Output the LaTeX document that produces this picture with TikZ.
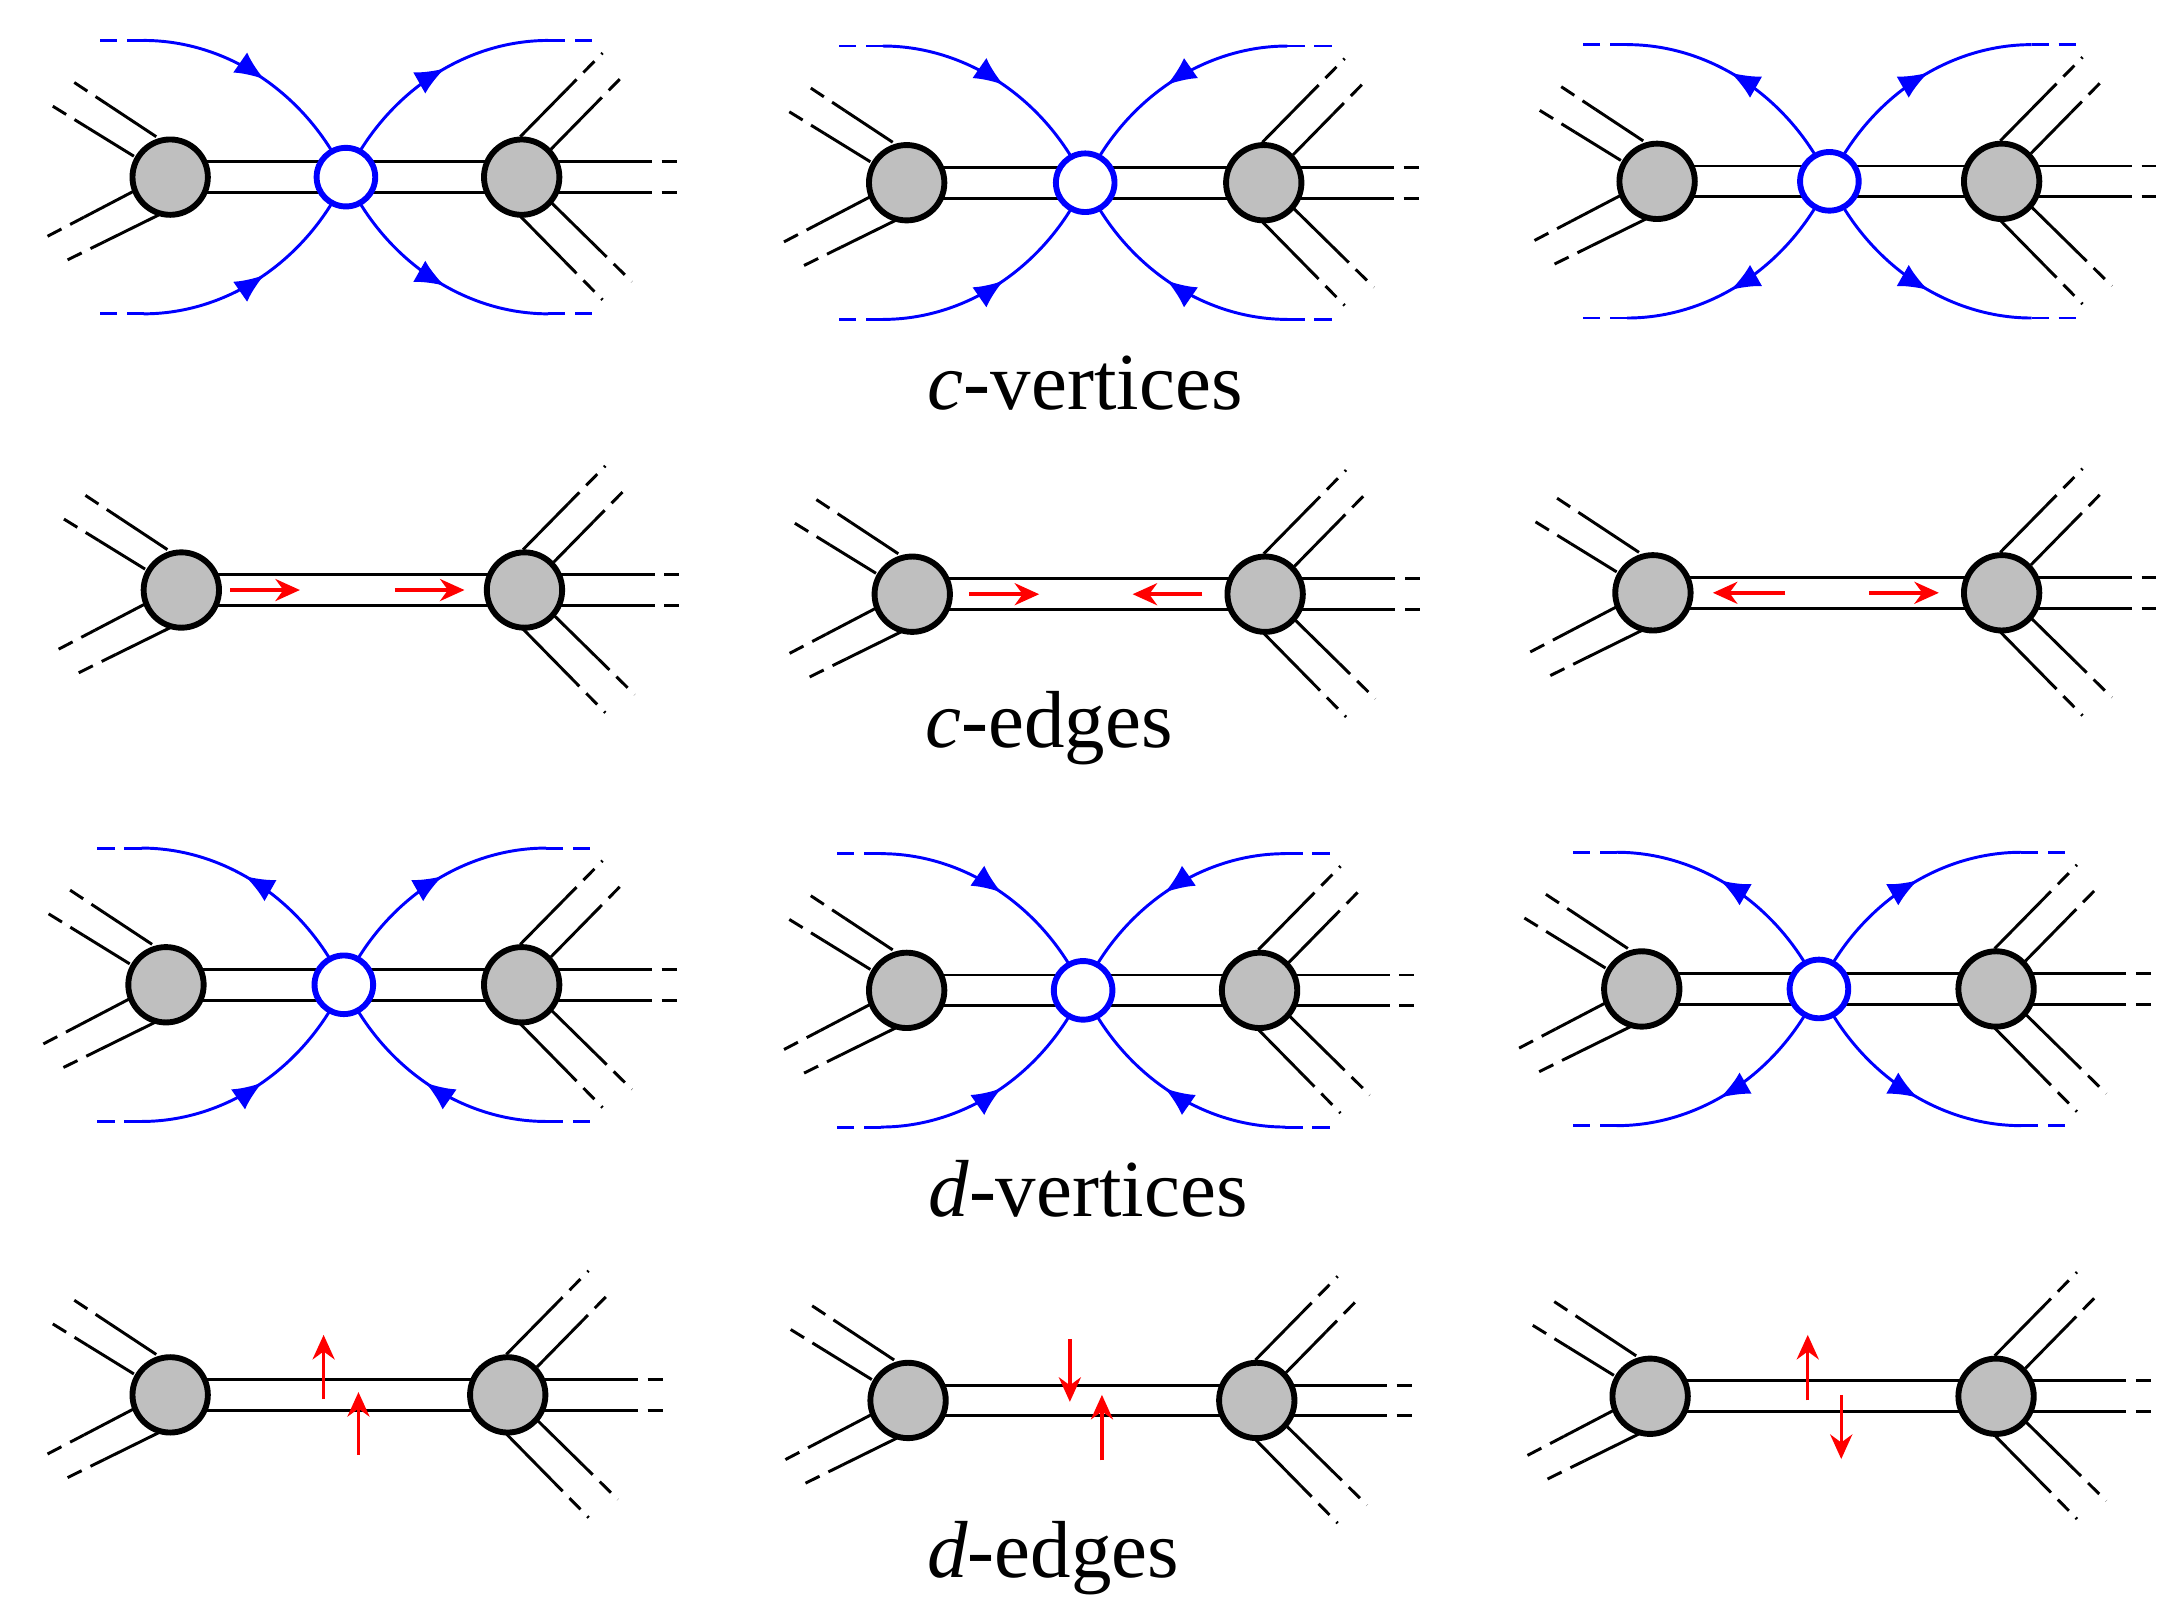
\documentclass[tikz,border=0pt]{standalone}
\usepackage{fontspec}
\setmainfont{Liberation Serif}
\usetikzlibrary{calc,arrows.meta,decorations.markings}
\tikzset{
 leg/.style={line width=0.6pt,black},
 dleg/.style={line width=0.6pt,black,dash pattern=on 3.2pt off 2pt},
 gnode/.style={circle,draw=black,fill=black!25,line width=1.2pt,minimum size=0.54cm,inner sep=0pt},
 bnode/.style={circle,draw=blue,fill=white,line width=1.2pt,minimum size=0.42cm,inner sep=0pt},
 bline/.style={blue,line width=0.6pt},
 dbline/.style={blue,line width=0.6pt,dash pattern=on 3.5pt off 2pt},
 rarr/.style={red,line width=0.7pt,-{Stealth[length=5pt,width=4.5pt]}},
 lab/.style={font=\fontsize{16.5}{20}\selectfont},
 mk/.style={postaction={decorate},decoration={markings,mark=at position #1 with {\arrow{Latex[length=6pt,width=5pt]}}}}
}
\newcommand\legline[2]{\draw[leg] (#1) -- ($(#1)!0.55!(#2)$); \draw[dleg] ($(#1)!0.55!(#2)$) -- (#2);}
\newcommand\panel[4]{%
 \begin{scope}[shift={(#2,#3)}]
  \coordinate (#1L) at (0,0); \coordinate (#1R) at (#4,0);
  \draw[leg] ([yshift=0.11cm]#1L) -- ([yshift=0.11cm]#1R);
  \draw[leg] ([yshift=-0.11cm]#1L) -- ([yshift=-0.11cm]#1R);
  \legline{-10,-29}{-72,-70}
  \legline{-26,-15}{-86,-52}
  \legline{-26,10}{-91,44}
  \legline{-8,27}{-79,62}
  \begin{scope}[shift={(#4,0)}]
   \legline{-1,-29}{58,-89}
   \legline{21,-20}{73,-73}
   \legline{-1,28}{58,88}
   \legline{21,18}{79,75}
   \draw[leg] (20,-11) -- (82,-11); \draw[dleg] (82,-11) -- (111,-11);
   \draw[leg] (20,11) -- (82,11); \draw[dleg] (82,11) -- (111,11);
  \end{scope}
  \node[gnode] (#1l) at (#1L) {};
  \node[gnode] (#1r) at (#1R) {};
 \end{scope}}
\newcommand\barcout[2]{\begin{scope}[xscale=#1,yscale=#2]
 \draw[bline,mk=0.58] (0,0) .. controls (-28,-60) and (-85,-98) .. (-145,-98);
 \draw[dbline] (-145,-98) -- (-177,-98);\end{scope}}
\newcommand\barcin[2]{\begin{scope}[xscale=#1,yscale=#2]
 \draw[bline,mk=0.5] (-145,-98) .. controls (-85,-98) and (-28,-60) .. (0,0);
 \draw[dbline] (-145,-98) -- (-177,-98);\end{scope}}
\newcommand\vpanel[5]{%
 \panel{#1}{#2}{#3}{#4}
 \begin{scope}[shift={($(#1L)!0.5!(#1R)$)}]
  #5
  \node[bnode] (#1m) at (0,0) {};
 \end{scope}}
\begin{document}
\begin{tikzpicture}[x=0.01cm,y=-0.01cm]
\useasboundingbox (0,0) rectangle (1560,1161);
% row 1
\vpanel{A1}{122}{127}{252}{\barcin{1}{1}\barcout{-1}{1}\barcin{1}{-1}\barcout{-1}{-1}}
\vpanel{A2}{650}{131}{256}{\barcin{1}{1}\barcin{-1}{1}\barcin{1}{-1}\barcin{-1}{-1}}
\vpanel{A3}{1188}{130}{247}{\barcout{1}{1}\barcout{-1}{1}\barcout{1}{-1}\barcout{-1}{-1}}
\node[lab] (t1) at (778,275) {\textit{c}-vertices};
% row 2
\panel{B1}{130}{423}{246}
\draw[rarr] ($(B1L)+(35,0)$) -- ($(B1L)+(85,0)$);
\draw[rarr] ($(B1L)+(153,0)$) -- ($(B1L)+(203,0)$);
\panel{B2}{654}{426}{253}
\draw[rarr] ($(B2L)+(41,0)$) -- ($(B2L)+(91,0)$);
\draw[rarr] ($(B2L)+(208,0)$) -- ($(B2L)+(158,0)$);
\panel{B3}{1185}{425}{250}
\draw[rarr] ($(B3L)+(95,0)$) -- ($(B3L)+(43,0)$);
\draw[rarr] ($(B3L)+(155,0)$) -- ($(B3L)+(205,0)$);
\node[lab] (t2) at (752,522) {\textit{c}-edges};
% row 3
\vpanel{C1}{119}{706}{255}{\barcout{1}{1}\barcout{-1}{1}\barcin{1}{-1}\barcin{-1}{-1}}
\vpanel{C2}{650}{710}{253}{\barcin{1}{1}\barcin{-1}{1}\barcin{1}{-1}\barcin{-1}{-1}}
\vpanel{C3}{1177}{709}{254}{\barcout{1}{1}\barcout{-1}{1}\barcout{1}{-1}\barcout{-1}{-1}}
\node[lab] (t3) at (780,852) {\textit{d}-vertices};
% row 4
\panel{D1}{122}{1000}{242}
\draw[rarr] ($(D1L)+(110,3)$) -- ($(D1L)+(110,-43)$);
\draw[rarr] ($(D1L)+(135,43)$) -- ($(D1L)+(135,-2)$);
\panel{D2}{651}{1004}{250}
\draw[rarr] ($(D2L)+(116,-44)$) -- ($(D2L)+(116,1)$);
\draw[rarr] ($(D2L)+(139,43)$) -- ($(D2L)+(139,-4)$);
\panel{D3}{1183}{1001}{248}
\draw[rarr] ($(D3L)+(113,3)$) -- ($(D3L)+(113,-44)$);
\draw[rarr] ($(D3L)+(137,-1)$) -- ($(D3L)+(137,45)$);
\node[lab] (t4) at (755,1117) {\textit{d}-edges};
\end{tikzpicture}
\end{document}
